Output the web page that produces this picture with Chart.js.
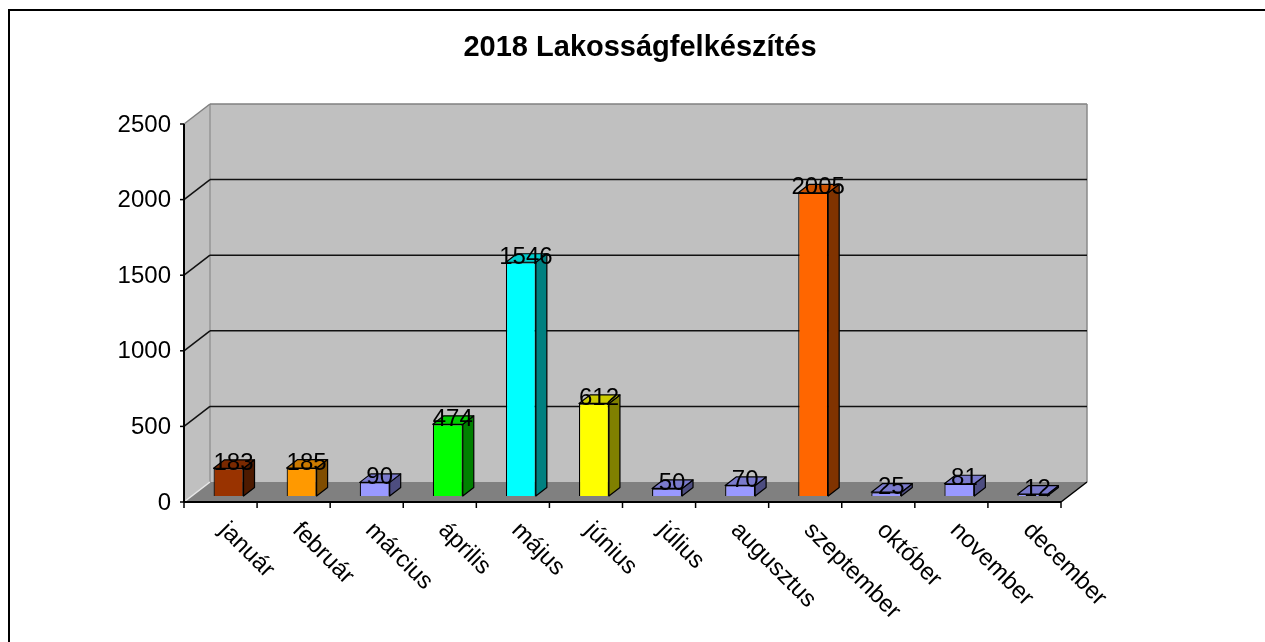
<!DOCTYPE html>
<html lang="hu">
<head>
<meta charset="utf-8">
<title>2018 Lakosságfelkészítés</title>
<script src="https://cdn.jsdelivr.net/npm/chart.js@4.4.1/dist/chart.umd.min.js"></script>
<style>
  html, body { margin: 0; padding: 0; background: #fff; }
  #wrap { width: 1265px; height: 642px; position: relative; }
</style>
</head>
<body>
<div id="wrap"><canvas id="chart"></canvas></div>
<script>
// chart data
const TITLE = "2018 Lakosságfelkészítés";
const months = ["január", "február", "március", "április", "május", "június",
  "július", "augusztus", "szeptember", "október", "november", "december"];
const values = [183, 185, 90, 474, 1546, 612, 50, 70, 2005, 25, 81, 12];
const barColors = ["#993300", "#FF9900", "#9999FF", "#00FF00", "#00FFFF", "#FFFF00",
  "#9999FF", "#9999FF", "#FF6600", "#9999FF", "#9999FF", "#9999FF"];
const yTicks = [0, 500, 1000, 1500, 2000, 2500];

const FONT = "'Liberation Sans', Arial, sans-serif";
// offsets from the bar plane to the front axis plane and to the back wall
const FRONT = { dx: -8, dy: 6 };
const BACK = { dx: 18, dy: -14 };
// depth of each bar
const BAR = { dx: 11, dy: -8.5 };

function shade(hex, f) {
  const n = parseInt(hex.slice(1), 16);
  const r = Math.round(((n >> 16) & 255) * f);
  const g = Math.round(((n >> 8) & 255) * f);
  const b = Math.round((n & 255) * f);
  return `rgb(${r},${g},${b})`;
}

function poly(ctx, pts, fill, stroke, lw) {
  ctx.beginPath();
  ctx.moveTo(pts[0][0], pts[0][1]);
  for (let i = 1; i < pts.length; i++) ctx.lineTo(pts[i][0], pts[i][1]);
  ctx.closePath();
  if (fill) { ctx.fillStyle = fill; ctx.fill(); }
  if (stroke) { ctx.strokeStyle = stroke; ctx.lineWidth = lw || 1; ctx.stroke(); }
}

function line(ctx, x1, y1, x2, y2, color, lw) {
  ctx.beginPath();
  ctx.moveTo(x1, y1);
  ctx.lineTo(x2, y2);
  ctx.strokeStyle = color;
  ctx.lineWidth = lw || 1;
  ctx.stroke();
}

const depth3d = {
  id: "depth3d",

  beforeDatasetsDraw(chart) {
    const { ctx, chartArea: a, scales: { x, y } } = chart;
    const yTop = y.getPixelForValue(yTicks[yTicks.length - 1]);
    const yBase = y.getPixelForValue(0);
    ctx.save();

    // outer frame
    ctx.strokeStyle = "#000";
    ctx.lineWidth = 2;
    ctx.strokeRect(9, 10, 1300, 700);

    // title
    ctx.fillStyle = "#000";
    ctx.font = "bold 29px " + FONT;
    ctx.textAlign = "center";
    ctx.textBaseline = "middle";
    ctx.fillText(TITLE, 640, 48);

    const fl = a.left + FRONT.dx, fr = a.right + FRONT.dx;
    const bl = a.left + BACK.dx, br = a.right + BACK.dx;

    // back wall, left wall, floor
    poly(ctx, [[bl, yTop + BACK.dy], [br, yTop + BACK.dy], [br, yBase + BACK.dy], [bl, yBase + BACK.dy]], "#C0C0C0");
    poly(ctx, [[fl, yTop + FRONT.dy], [bl, yTop + BACK.dy], [bl, yBase + BACK.dy], [fl, yBase + FRONT.dy]], "#C0C0C0");
    poly(ctx, [[fl, yBase + FRONT.dy], [bl, yBase + BACK.dy], [br, yBase + BACK.dy], [fr, yBase + FRONT.dy]], "#808080");

    // wall edges
    line(ctx, fl, yTop + FRONT.dy, bl, yTop + BACK.dy, "#808080", 1.5);
    line(ctx, bl, yTop + BACK.dy, br, yTop + BACK.dy, "#808080", 1.5);
    line(ctx, br, yTop + BACK.dy, br, yBase + BACK.dy, "#8a8a8a", 1.5);
    line(ctx, bl, yTop + BACK.dy, bl, yBase + BACK.dy, "#808080", 1);
    line(ctx, fl, yBase + FRONT.dy, bl, yBase + BACK.dy, "#e8e8e8", 1.5);
    line(ctx, fr, yBase + FRONT.dy, br, yBase + BACK.dy, "#000", 1.5);

    // gridlines on the back and left walls
    yTicks.forEach((v) => {
      if (v === 0 || v === yTicks[yTicks.length - 1]) return;
      const py = y.getPixelForValue(v);
      line(ctx, bl, py + BACK.dy, br, py + BACK.dy, "#111", 1.5);
      line(ctx, fl, py + FRONT.dy, bl, py + BACK.dy, "#111", 1.5);
    });

    // value axis and its labels
    line(ctx, fl, yTop + FRONT.dy, fl, yBase + FRONT.dy, "#000", 2);
    ctx.font = "24px " + FONT;
    ctx.textAlign = "right";
    ctx.textBaseline = "middle";
    ctx.fillStyle = "#000";
    yTicks.forEach((v) => {
      const py = y.getPixelForValue(v) + FRONT.dy;
      line(ctx, fl - 4, py, fl, py, "#000", 1.5);
      ctx.fillText(String(v), fl - 13, py + 1);
    });

    // category axis, ticks and rotated labels
    line(ctx, fl, yBase + FRONT.dy, fr, yBase + FRONT.dy, "#000", 2);
    const catW = (a.right - a.left) / months.length;
    for (let k = 0; k <= months.length; k++) {
      const tx = fl + k * catW;
      line(ctx, tx, yBase + FRONT.dy, tx, yBase + FRONT.dy + 6, "#000", 1.5);
    }
    ctx.textAlign = "left";
    ctx.textBaseline = "top";
    months.forEach((m, i) => {
      const cx = x.getPixelForValue(i) + FRONT.dx;
      ctx.save();
      ctx.translate(cx + 11, yBase + FRONT.dy + 16);
      ctx.rotate(Math.PI / 4);
      ctx.fillText(m, 0, 0);
      ctx.restore();
    });

    ctx.restore();
  },

  afterDatasetsDraw(chart) {
    const { ctx } = chart;
    const meta = chart.getDatasetMeta(0);
    ctx.save();
    ctx.lineJoin = "round";
    meta.data.forEach((bar, i) => {
      const L = bar.x - bar.width / 2;
      const R = bar.x + bar.width / 2;
      const T = bar.y;
      const B = bar.base;
      const c = barColors[i];
      // side face
      poly(ctx, [[R, T], [R + BAR.dx, T + BAR.dy], [R + BAR.dx, B + BAR.dy], [R, B]], shade(c, 0.5), "#000", 1.2);
      // top face
      poly(ctx, [[L, T], [L + BAR.dx, T + BAR.dy], [R + BAR.dx, T + BAR.dy], [R, T]], shade(c, 0.8), "#000", 1.2);
    });

    // value labels
    ctx.font = "24px " + FONT;
    ctx.textAlign = "center";
    ctx.textBaseline = "middle";
    ctx.fillStyle = "#000";
    meta.data.forEach((bar, i) => {
      ctx.fillText(String(values[i]), bar.x + 5, bar.y - 5);
    });
    ctx.restore();
  },
};

new Chart(document.getElementById("chart"), {
  type: "bar",
  data: {
    labels: months,
    datasets: [{
      data: values,
      backgroundColor: barColors,
      borderColor: "#000",
      borderWidth: 1.2,
      barPercentage: 0.41,
      categoryPercentage: 1,
    }],
  },
  options: {
    responsive: true,
    maintainAspectRatio: false,
    animation: false,
    layout: { padding: { left: 192, right: 196, top: 118, bottom: 146 } },
    plugins: {
      legend: { display: false },
      title: { display: false },
      tooltip: { enabled: false },
    },
    scales: {
      x: { display: false },
      y: { display: false, min: 0, max: 2500 },
    },
  },
  plugins: [depth3d],
});
</script>
</body>
</html>
